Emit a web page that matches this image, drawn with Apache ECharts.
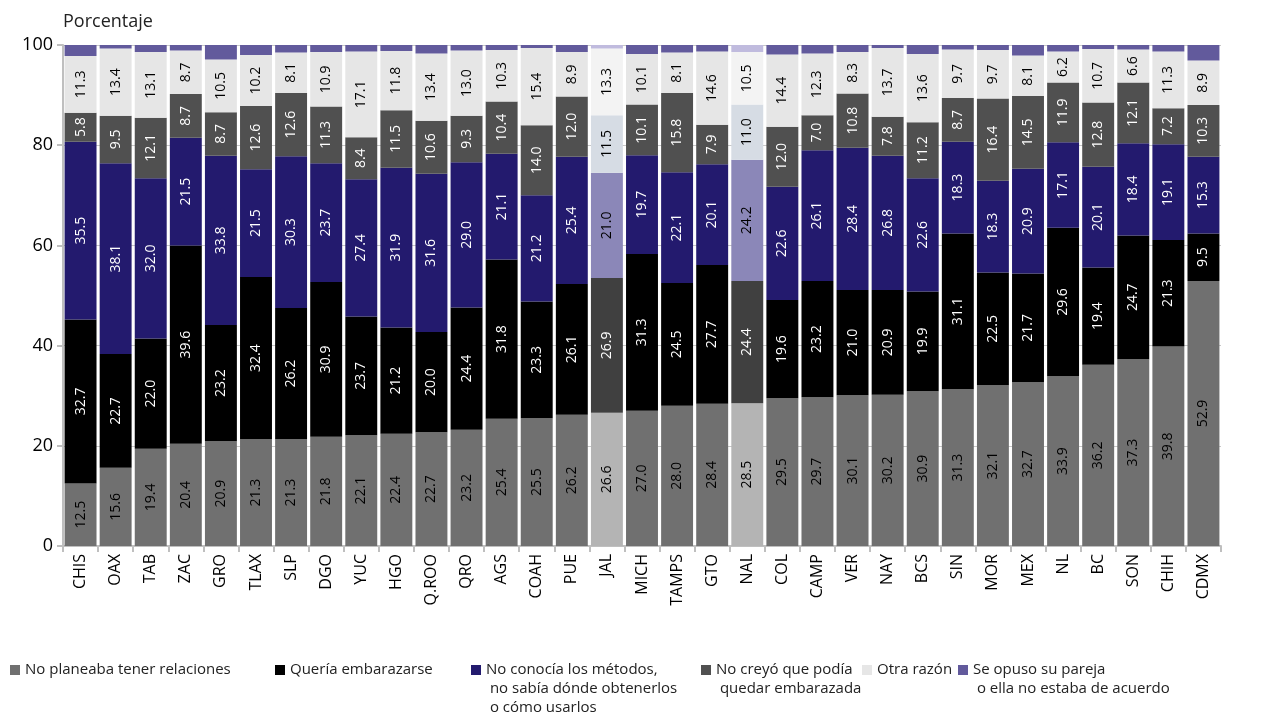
<!DOCTYPE html>
<html>
<head>
<meta charset="utf-8">
<script src="https://cdn.jsdelivr.net/npm/echarts@6/dist/echarts.min.js"></script>
<style>
  html, body { margin: 0; padding: 0; background: #fff; }
  #chart { width: 1267px; height: 714px; }
</style>
</head>
<body>
<div id="chart"></div>
<script>
'use strict';

// entidades
var categories = ['CHIS', 'OAX', 'TAB', 'ZAC', 'GRO', 'TLAX', 'SLP', 'DGO', 'YUC', 'HGO', 'Q.ROO',
  'QRO', 'AGS', 'COAH', 'PUE', 'JAL', 'MICH', 'TAMPS', 'GTO', 'NAL', 'COL', 'CAMP', 'VER',
  'NAY', 'BCS', 'SIN', 'MOR', 'MEX', 'NL', 'BC', 'SON', 'CHIH', 'CDMX'];

// porcentajes por razón
var noPlaneaba = [12.5, 15.6, 19.4, 20.4, 20.9, 21.3, 21.3, 21.8, 22.1, 22.4, 22.7, 23.2, 25.4, 25.5, 26.2,
  26.6, 27.0, 28.0, 28.4, 28.5, 29.5, 29.7, 30.1, 30.2, 30.9, 31.3, 32.1, 32.7, 33.9, 36.2, 37.3, 39.8, 52.9];
var queriaEmbarazarse = [32.7, 22.7, 22.0, 39.6, 23.2, 32.4, 26.2, 30.9, 23.7, 21.2, 20.0, 24.4, 31.8, 23.3, 26.1,
  26.9, 31.3, 24.5, 27.7, 24.4, 19.6, 23.2, 21.0, 20.9, 19.9, 31.1, 22.5, 21.7, 29.6, 19.4, 24.7, 21.3, 9.5];
var noConocia = [35.5, 38.1, 32.0, 21.5, 33.8, 21.5, 30.3, 23.7, 27.4, 31.9, 31.6, 29.0, 21.1, 21.2, 25.4,
  21.0, 19.7, 22.1, 20.1, 24.2, 22.6, 26.1, 28.4, 26.8, 22.6, 18.3, 18.3, 20.9, 17.1, 20.1, 18.4, 19.1, 15.3];
var noCreyo = [5.8, 9.5, 12.1, 8.7, 8.7, 12.6, 12.6, 11.3, 8.4, 11.5, 10.6, 9.3, 10.4, 14.0, 12.0,
  11.5, 10.1, 15.8, 7.9, 11.0, 12.0, 7.0, 10.8, 7.8, 11.2, 8.7, 16.4, 14.5, 11.9, 12.8, 12.1, 7.2, 10.3];
var otraRazon = [11.3, 13.4, 13.1, 8.7, 10.5, 10.2, 8.1, 10.9, 17.1, 11.8, 13.4, 13.0, 10.3, 15.4, 8.9,
  13.3, 10.1, 8.1, 14.6, 10.5, 14.4, 12.3, 8.3, 13.7, 13.6, 9.7, 9.7, 8.1, 6.2, 10.7, 6.6, 11.3, 8.9];
var seOpuso = [2.2, 0.7, 1.4, 1.1, 2.9, 2.0, 1.5, 1.4, 1.3, 1.2, 1.7, 1.1, 1.0, 0.6, 1.4,
  0.7, 1.8, 1.5, 1.3, 1.4, 1.9, 1.7, 1.4, 0.6, 1.8, 0.9, 1.0, 2.1, 1.3, 0.8, 0.9, 1.3, 3.1];

var yTicks = [0, 20, 40, 60, 80, 100];

// entidades resaltadas
var resaltadas = ['JAL', 'NAL'];

var FONT = 'Open Sans';

var legendNames = [
  'No planeaba tener relaciones',
  'Quería embarazarse',
  'No conocía los métodos,\n no sabía dónde obtenerlos\n o cómo usarlos',
  'No creyó que podía\n quedar embarazada',
  'Otra razón',
  'Se opuso su pareja\n o ella no estaba de acuerdo'
];
var legendX = [5, 270, 466, 696, 857, 953];

// color, color resaltado, texto, texto resaltado
var styles = [
  ['#707070', '#b4b4b4', '#000', '#000'],
  ['#000000', '#404040', '#fff', '#fff'],
  ['#231a6e', '#8b87b8', '#fff', '#000'],
  ['#505050', '#d6dce4', '#fff', '#000'],
  ['#e6e6e6', '#f3f3f3', '#000', '#000'],
  ['#625a9c', '#c0bbde', '#000', '#000']
];
var valores = [noPlaneaba, queriaEmbarazarse, noConocia, noCreyo, otraRazon, seOpuso];

function buildSeries(i) {
  var st = styles[i];
  return {
    name: legendNames[i],
    type: 'bar',
    stack: 'total',
    barCategoryGap: '9%',
    itemStyle: { color: st[0] },
    label: {
      show: i < 5,
      position: 'inside',
      rotate: 90,
      fontFamily: FONT,
      fontSize: 14,
      color: st[2],
      formatter: function (p) { return p.value.toFixed(1); }
    },
    emphasis: { disabled: true },
    data: valores[i].map(function (v, k) {
      if (resaltadas.indexOf(categories[k]) >= 0) {
        return { value: v, itemStyle: { color: st[1] }, label: { color: st[3] } };
      }
      return v;
    })
  };
}

var series = [];
for (var i = 0; i < 6; i++) series.push(buildSeries(i));

// una leyenda por serie; líneas vacías delante para que la primera línea quede junto al icono
var LH = 19;
var legends = legendNames.map(function (n, i) {
  var lines = n.split('\n').length;
  var pre = new Array(lines).join('\n');
  return {
    left: legendX[i],
    top: 670 - 5 - (2 * lines - 1) * LH / 2,
    orient: 'horizontal',
    icon: 'rect',
    itemWidth: 10,
    itemHeight: 10,
    itemGap: 4,
    selectedMode: false,
    data: [n],
    formatter: function (name) { return pre + name; },
    textStyle: { fontFamily: FONT, fontSize: 15, color: '#222', lineHeight: LH }
  };
});

var chart = echarts.init(document.getElementById('chart'));
chart.setOption({
  animation: false,
  backgroundColor: '#fff',
  grid: { left: 63, right: 46, top: 45, bottom: 168 },
  legend: legends,
  xAxis: {
    type: 'category',
    data: categories,
    axisLine: { lineStyle: { color: '#bfbfbf', width: 2 } },
    axisTick: { show: true, length: 6, lineStyle: { color: '#bfbfbf', width: 2 } },
    axisLabel: { rotate: 90, fontFamily: FONT, fontSize: 16, color: '#000', margin: 8 }
  },
  yAxis: {
    type: 'value',
    min: yTicks[0],
    max: yTicks[yTicks.length - 1],
    interval: 20,
    name: 'Porcentaje',
    nameLocation: 'end',
    nameGap: 14,
    nameTextStyle: { fontFamily: FONT, fontSize: 18, color: '#222', align: 'left' },
    axisLine: { show: true, lineStyle: { color: '#bfbfbf', width: 2 } },
    axisTick: { show: true, length: 6, lineStyle: { color: '#bfbfbf', width: 2 } },
    axisLabel: { fontFamily: FONT, fontSize: 18, color: '#000', margin: 10 },
    splitLine: { lineStyle: { color: '#c8c8c8', width: 1 } }
  },
  series: series
});
</script>
</body>
</html>
